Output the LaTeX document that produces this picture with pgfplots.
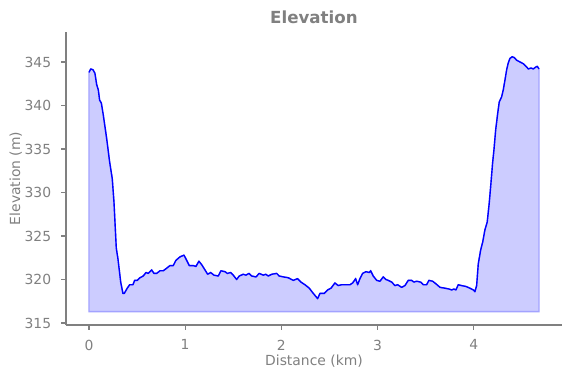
\documentclass[border=0pt]{standalone}
\usepackage{fontspec}
\setmainfont{DejaVu Sans}
\usepackage{pgfplots}
\usepackage{pgfplotstable}
\pgfplotsset{compat=1.18}
\usetikzlibrary{calc}
\definecolor{mgray}{HTML}{808080}
\definecolor{fillc}{RGB}{204,204,255}
\definecolor{edgec}{RGB}{163,163,255}
\definecolor{linec}{RGB}{0,0,255}

\pgfplotstableread{
x y
0.000 343.8
0.018 344.2
0.042 344.1
0.062 343.7
0.080 342.4
0.097 341.8
0.111 340.6
0.128 340.3
0.149 338.9
0.184 336.2
0.215 333.5
0.242 331.6
0.260 328.9
0.284 323.6
0.301 322.4
0.330 319.7
0.353 318.4
0.367 318.4
0.398 319.0
0.423 319.4
0.457 319.4
0.475 319.9
0.502 319.9
0.530 320.2
0.564 320.4
0.593 320.8
0.616 320.7
0.652 321.1
0.676 320.7
0.704 320.7
0.738 321.0
0.772 321.0
0.808 321.3
0.842 321.6
0.876 321.6
0.904 322.2
0.946 322.6
0.988 322.8
1.016 322.2
1.043 321.6
1.084 321.6
1.112 321.5
1.143 322.1
1.172 321.7
1.206 321.1
1.234 320.6
1.265 320.8
1.299 320.5
1.344 320.4
1.372 321.0
1.414 320.9
1.438 320.7
1.473 320.8
1.500 320.5
1.535 320.0
1.562 320.4
1.604 320.6
1.632 320.5
1.663 320.7
1.691 320.4
1.736 320.3
1.770 320.7
1.812 320.5
1.837 320.6
1.864 320.4
1.899 320.6
1.951 320.7
1.978 320.4
2.020 320.3
2.072 320.2
2.124 319.9
2.169 320.1
2.204 319.7
2.245 319.4
2.290 319.0
2.332 318.4
2.377 317.8
2.401 318.4
2.446 318.4
2.481 318.8
2.516 319.0
2.557 319.6
2.591 319.3
2.627 319.4
2.679 319.4
2.713 319.4
2.741 319.6
2.772 320.1
2.793 319.4
2.817 320.1
2.845 320.7
2.879 320.9
2.914 320.8
2.928 321.0
2.955 320.4
2.991 319.9
3.025 319.8
3.059 320.3
3.087 320.0
3.111 319.9
3.147 319.7
3.181 319.3
3.209 319.4
3.250 319.1
3.285 319.3
3.319 319.9
3.354 319.9
3.378 319.7
3.406 319.8
3.448 319.7
3.475 319.4
3.510 319.4
3.534 319.9
3.573 319.8
3.607 319.5
3.649 319.1
3.701 319.0
3.745 318.9
3.770 318.8
3.794 318.9
3.815 318.8
3.839 319.4
3.874 319.3
3.919 319.2
3.960 319.0
3.995 318.8
4.012 318.6
4.030 319.3
4.047 321.8
4.072 323.4
4.093 324.3
4.116 325.7
4.140 326.6
4.161 328.8
4.179 331.1
4.196 333.4
4.210 334.9
4.228 337.2
4.249 339.1
4.265 340.4
4.290 341.0
4.307 341.8
4.324 342.9
4.342 344.1
4.359 344.9
4.376 345.4
4.400 345.6
4.421 345.5
4.446 345.2
4.480 345.0
4.515 344.8
4.543 344.5
4.567 344.2
4.595 344.3
4.619 344.2
4.643 344.4
4.660 344.5
4.678 344.2
}\elev

\begin{document}
\begin{tikzpicture}
\begin{axis}[
  scale only axis,
  width=357.1pt, height=211pt,
  xmin=-0.239, xmax=4.917,
  ymin=314.77, ymax=348.45,
  axis x line*=bottom, axis y line*=left,
  axis line style={-, mgray, line width=0.8pt},
  xtick={0,1,2,3,4},
  ytick={315,320,325,330,335,340,345},
  tick align=outside,
  major tick length=3.5pt,
  tick style={mgray, line width=0.8pt},
  /pgf/number format/assume math mode=true,
  xticklabel style={anchor=north, inner sep=0pt, yshift=-7pt, text=mgray, font=\fontsize{10}{12}\selectfont},
  yticklabel style={anchor=east, inner sep=0pt, xshift=-7pt, text=mgray, font=\fontsize{10}{12}\selectfont},
  clip=false,
]
\addplot[fill=fillc, draw=edgec, line width=1pt] table[x=x,y=y] {\elev}
  -- (axis cs:4.678,316.3) -- (axis cs:0,316.3) -- cycle;
\addplot[linec, line width=1pt, line join=round] table[x=x,y=y] {\elev};
\end{axis}
\node[anchor=base, text=mgray, font=\fontsize{12}{14}\selectfont\bfseries] at ($(current axis.north)+(0,5.8pt)$) {Elevation};
\node[anchor=base, text=mgray, font=\fontsize{10}{12}\selectfont] at ($(current axis.south)+(0,-28.8pt)$) {Distance (km)};
\node[anchor=base, rotate=90, text=mgray, font=\fontsize{10}{12}\selectfont] at ($(current axis.west)+(-33.1pt,0)$) {Elevation (m)};
\pgfresetboundingbox
\path[use as bounding box] ($(current axis.south west)+(-47.5pt,-38.2pt)$) rectangle ($(current axis.north east)+(6.5pt,23pt)$);
\end{tikzpicture}
\end{document}
